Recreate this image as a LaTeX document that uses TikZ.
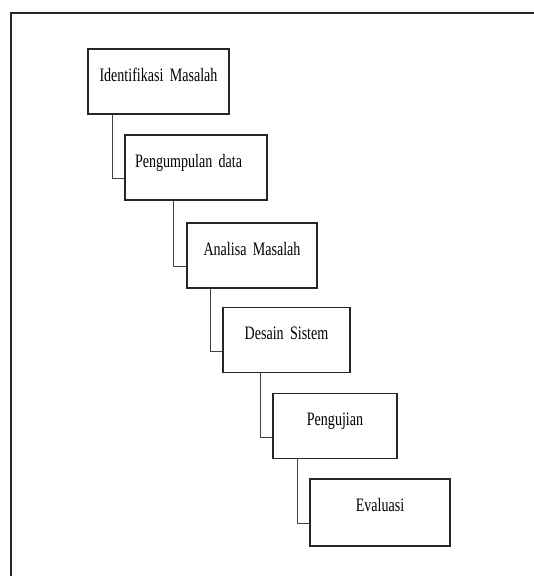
\documentclass[tikz,border=0pt]{standalone}
\usepackage{fontspec}
\setmainfont{Liberation Serif}[FakeStretch=0.74]
\usetikzlibrary{calc}

\tikzset{
    stepbox/.style={draw=black!85, line width=1.1pt, inner xsep=0pt, inner ysep=0pt,
        text height=32pt, text depth=33pt, align=center,
        font=\fontsize{19}{21}\selectfont},
    link/.style={draw=black!75, line width=1pt}
}

\begin{document}
\begin{tikzpicture}[x=1pt,y=-1pt]

    \useasboundingbox (0,0) rectangle (534,576);
    \draw[black!85, line width=1.6pt] (11,576)--(11,13)--(534,13);

    \node[stepbox, text width=141pt] (s1) at (158.5,81.5) {Identifikasi Masalah};
    \node[stepbox, text width=122pt, inner xsep=10pt, align=left] (s2) at (196,167.5) {Pengumpulan data};
    \node[stepbox, text width=130pt] (s3) at (252,255.5) {Analisa Masalah};
    \node[stepbox, text width=127pt] (s4) at (286.5,340) {Desain Sistem};
    \node[stepbox, text width=124pt] (s5) at (335,426) {Pengujian};
    \node[stepbox, text width=140pt, text depth=35pt] (s6) at (380,512.5) {Evaluasi};

    \foreach \a/\b/\dx in {s1/s2/25,s2/s3/49,s3/s4/24,s4/s5/38,s5/s6/25} {
    \draw[link] ([xshift=\dx pt]\a.south west) |- ([yshift=-11pt]\b.west);}

\end{tikzpicture}
\end{document}
